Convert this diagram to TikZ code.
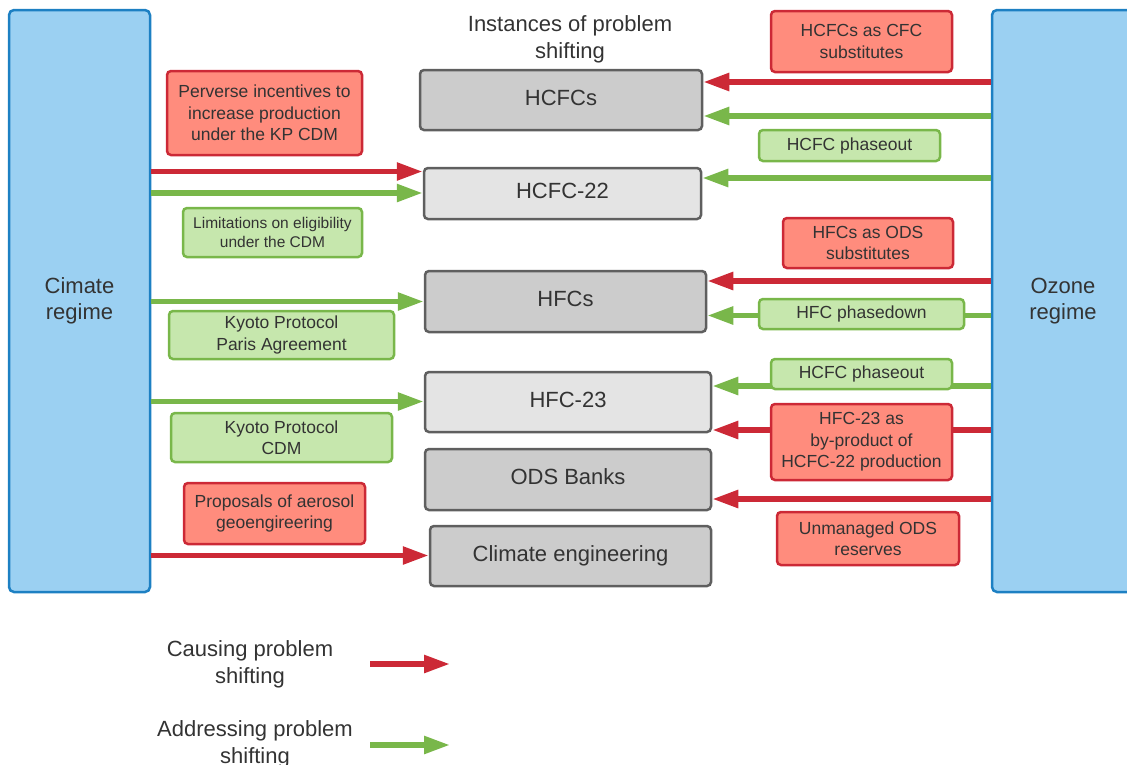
\documentclass[tikz,border=0pt]{standalone}
\usepackage{fontspec}
\setmainfont{Liberation Sans}
\usetikzlibrary{arrows.meta}
\definecolor{bluefill}{HTML}{9BD0F2}
\definecolor{blueline}{HTML}{1D80C3}
\definecolor{redfill}{HTML}{FF8C7D}
\definecolor{redline}{HTML}{CC2936}
\definecolor{greenfill}{HTML}{C6E7AD}
\definecolor{greenline}{HTML}{79B74A}
\definecolor{grayfill}{HTML}{CCCCCC}
\definecolor{lightgrayfill}{HTML}{E4E4E4}
\definecolor{grayline}{HTML}{5F5F5F}
\definecolor{txt}{HTML}{333333}
\tikzset{
 regime/.style={draw=blueline, fill=bluefill, line width=2.5pt, rounded corners=5pt, inner sep=0pt, align=center, text=txt, font=\fontsize{22}{26}\selectfont},
 inst/.style={draw=grayline, fill=grayfill, line width=2.5pt, rounded corners=4pt, inner sep=0pt, align=center, text=txt, font=\fontsize{22}{27}\selectfont, text height=16pt, text depth=6pt},
 instlight/.style={inst, fill=lightgrayfill},
 redlabel/.style={draw=redline, fill=redfill, line width=2.5pt, rounded corners=4pt, inner sep=0pt, align=center, text=txt, font=\fontsize{17.5}{21.5}\selectfont},
 greenlabel/.style={redlabel, draw=greenline, fill=greenfill},
 redarrow/.style={draw=redline, line width=5.5pt, -{Triangle[length=26pt,width=17pt]}},
 greenarrow/.style={redarrow, draw=greenline},
 plaintext/.style={align=center, text=txt, font=\fontsize{22}{27}\selectfont, inner sep=0pt},
}
\begin{document}
\begin{tikzpicture}[x=1pt,y=-1pt]
\useasboundingbox (0,0) rectangle (1127,764);
% regimes
\node[regime, minimum width=141pt, minimum height=582pt] (climate) at (79.5,301) {Cimate\\regime};
\node[regime, minimum width=142pt, minimum height=582pt] (ozone) at (1063,301) {Ozone\\regime};
% title
\node[plaintext] (title) at (570,39.5) {Instances of problem\\shifting};
% instances
\node[inst, minimum width=282pt, minimum height=60pt] (hcfcs) at (561,100) {HCFCs};
\node[instlight, minimum width=277pt, minimum height=51pt] (hcfc22) at (562.5,193.5) {HCFC-22};
\node[inst, minimum width=281pt, minimum height=61pt] (hfcs) at (565.5,301.5) {HFCs};
\node[instlight, minimum width=286pt, minimum height=60pt] (hfc23) at (568,402) {HFC-23};
\node[inst, minimum width=286pt, minimum height=61pt] (ods) at (568,479.5) {ODS Banks};
\node[inst, minimum width=281pt, minimum height=60pt] (ce) at (570.5,556) {Climate engineering};
% arrows from climate regime
\draw[redarrow] (climate.east |- 0,171.5) -- (hcfc22.west |- 0,171.5);
\draw[greenarrow] (climate.east |- 0,193) -- (hcfc22.west |- 0,193);
\draw[greenarrow] (climate.east |- 0,301.5) -- (hfcs.west |- 0,301.5);
\draw[greenarrow] (climate.east |- 0,401.5) -- (hfc23.west |- 0,401.5);
\draw[redarrow] (climate.east |- 0,555.5) -- (ce.west |- 0,555.5);
% arrows from ozone regime
\draw[redarrow] (ozone.west |- 0,82) -- (hcfcs.east |- 0,82);
\draw[greenarrow] (ozone.west |- 0,116) -- (hcfcs.east |- 0,116);
\draw[greenarrow] (ozone.west |- 0,178) -- (hcfc22.east |- 0,178);
\draw[redarrow] (ozone.west |- 0,281) -- (hfcs.east |- 0,281);
\draw[greenarrow] (ozone.west |- 0,315.5) -- (hfcs.east |- 0,315.5);
\draw[greenarrow] (ozone.west |- 0,386) -- (hfc23.east |- 0,386);
\draw[redarrow] (ozone.west |- 0,430) -- (hfc23.east |- 0,430);
\draw[redarrow] (ozone.west |- 0,499) -- (ods.east |- 0,499);
% labels left
\node[redlabel, minimum width=195pt, minimum height=84pt] (perverse) at (264.5,113) {Perverse incentives to\\increase production\\under the KP CDM};
\node[greenlabel, minimum width=179pt, minimum height=49pt, font=\fontsize{15.5}{18.5}\selectfont] (limits) at (272.5,232.5) {Limitations on eligibility\\under the CDM};
\node[greenlabel, minimum width=225pt, minimum height=48pt] (kpparis) at (281.5,335) {Kyoto Protocol\\Paris Agreement};
\node[greenlabel, minimum width=221pt, minimum height=49pt] (kpcdm) at (281.5,437.5) {Kyoto Protocol\\CDM};
\node[redlabel, minimum width=181pt, minimum height=61pt] (aerosol) at (274.5,513.5) {Proposals of aerosol\\geoengireering};
% labels right
\node[redlabel, minimum width=181pt, minimum height=61pt] (hcfcsub) at (861.5,41.5) {HCFCs as CFC\\substitutes};
\node[greenlabel, minimum width=181pt, minimum height=31pt] (hcfcpo1) at (849.5,145.5) {HCFC phaseout};
\node[redlabel, minimum width=170pt, minimum height=50pt] (hfcsub) at (868,243) {HFCs as ODS\\substitutes};
\node[greenlabel, minimum width=205pt, minimum height=30pt] (hfcpd) at (861.5,314) {HFC phasedown};
\node[greenlabel, minimum width=181pt, minimum height=30pt] (hcfcpo2) at (861.5,374) {HCFC phaseout};
\node[redlabel, minimum width=181pt, minimum height=76pt] (hfc23by) at (861.5,442) {HFC-23 as\\by-product of\\HCFC-22 production};
\node[redlabel, minimum width=182pt, minimum height=53pt] (unmanaged) at (868,538.5) {Unmanaged ODS\\reserves};
% legend
\node[plaintext] (causing) at (250,664.5) {Causing problem\\shifting};
\node[plaintext] (addressing) at (255,744.5) {Addressing problem\\shifting};
\coordinate (lgrs) at (370,664);
\coordinate (lgre) at (450,664);
\coordinate (lggs) at (370,745);
\coordinate (lgge) at (450,745);
\draw[redarrow] (lgrs) -- (lgre);
\draw[greenarrow] (lggs) -- (lgge);
\end{tikzpicture}
\end{document}
